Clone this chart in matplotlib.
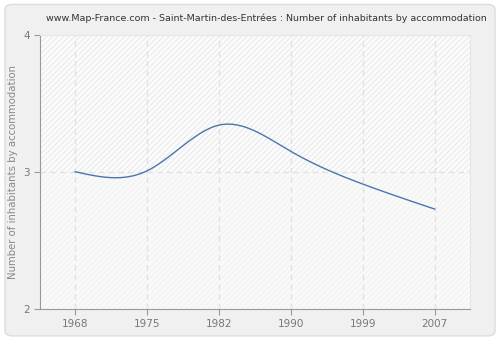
import numpy as np
import matplotlib.pyplot as plt
from matplotlib.patches import FancyBboxPatch

# data
years = ['1968', '1975', '1982', '1990', '1999', '2007']
values = [3.0, 3.007, 3.34, 3.148, 2.91, 2.728]


def natural_spline(x, y, n=300):
    '''natural cubic spline through the points'''
    x = np.asarray(x, float)
    y = np.asarray(y, float)
    k = len(x)
    h = np.diff(x)
    A = np.zeros((k, k))
    b = np.zeros(k)
    A[0, 0] = A[-1, -1] = 1
    for i in range(1, k - 1):
        A[i, i - 1] = h[i - 1]
        A[i, i] = 2 * (h[i - 1] + h[i])
        A[i, i + 1] = h[i]
        b[i] = 6 * ((y[i + 1] - y[i]) / h[i] - (y[i] - y[i - 1]) / h[i - 1])
    M = np.linalg.solve(A, b)
    xs = np.linspace(x[0], x[-1], n)
    idx = np.clip(np.searchsorted(x, xs) - 1, 0, k - 2)
    x0, x1 = x[idx], x[idx + 1]
    hh = x1 - x0
    a = (x1 - xs) / hh
    c = (xs - x0) / hh
    ys = (a * y[idx] + c * y[idx + 1]
          + ((a ** 3 - a) * M[idx] + (c ** 3 - c) * M[idx + 1]) * hh ** 2 / 6)
    return xs, ys


fig = plt.figure(figsize=(5, 3.4), dpi=100)
fig.patch.set_facecolor('white')
bg = FancyBboxPatch((0.01, 0.012), 0.98, 0.975, boxstyle='round,pad=0,rounding_size=0.015',
                    transform=fig.transFigure, facecolor='#f0f0f0', edgecolor='#dddddd',
                    lw=1, zorder=-10)
fig.patches.append(bg)

ax = fig.add_axes([0.08, 0.0912, 0.86, 0.8073])
ax.set_facecolor('#fafafa')

# banded hatched background
plt.rcParams['hatch.linewidth'] = 0.5
ax.axhspan(3, 4, facecolor='#fbfbfb', hatch='//////', edgecolor='#e2e2e2', lw=0, zorder=0)
ax.axhspan(2, 3, facecolor='#f9f9f9', hatch='//////', edgecolor='#efefef', lw=0, zorder=0)

pos = np.arange(len(years))
xs, ys = natural_spline(pos, values)
ax.plot(xs, ys, color='#4a76ad', lw=1, zorder=3)

ax.set_xlim(-0.49, 5.49)
ax.set_ylim(2, 4)
ax.set_xticks(pos)
ax.set_xticklabels(years)
ax.set_yticks([2, 3, 4])

for p in pos:
    ax.axvline(p, color='#e2e2e2', lw=1, ls=(0, (4, 3)), zorder=1)
ax.axhline(3, color='#e2e2e2', lw=1, ls=(0, (4, 3)), zorder=1)

for side in ['top', 'right']:
    ax.spines[side].set_color('#e6e6e6')
for side in ['left', 'bottom']:
    ax.spines[side].set_color('#999999')
ax.tick_params(colors='#999999', labelcolor='#777777', labelsize=7.5, length=4)

ax.set_ylabel('Number of inhabitants by accommodation', color='#888888', fontsize=7.3)
ax.yaxis.set_label_coords(-0.05, 0.5)
fig.text(0.533, 0.945, 'www.Map-France.com - Saint-Martin-des-Entrées : Number of inhabitants by accommodation',
         ha='center', va='center', fontsize=6.8, color='#333333')

fig.savefig('out.png', dpi=100, facecolor=fig.get_facecolor())
